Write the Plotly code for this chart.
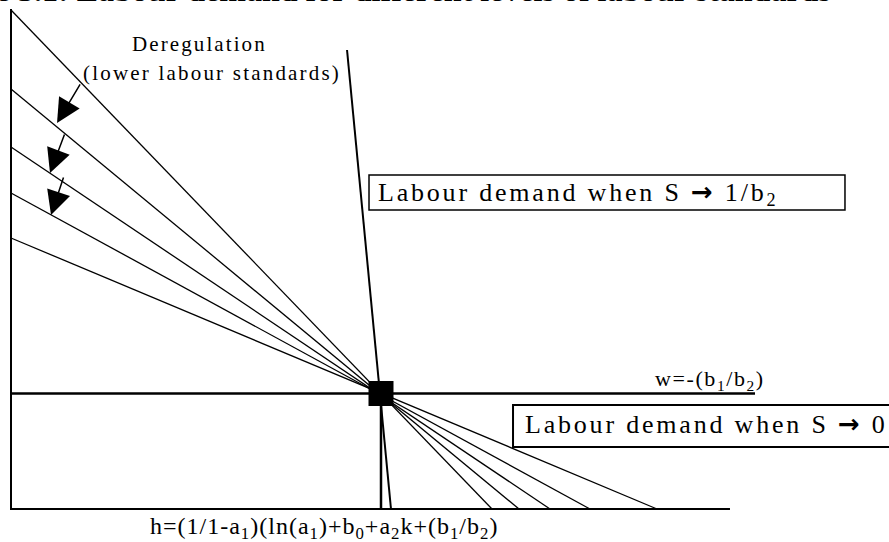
import plotly.graph_objects as go

# Equilibrium point (employment h*, wage w*)
H_STAR = 5.0
W_STAR = 2.0

# Labour-demand curves for decreasing labour standards:
# wage intercept (h = 0) and employment intercept (w = 0) of each line
FAN_W_INTERCEPT = [8.641, 7.273, 6.268, 5.472, 4.693]
FAN_H_INTERCEPT = [6.500, 6.865, 7.284, 7.824, 8.730]

# Labour demand when S -> 1/b2 (near-vertical curve)
STEEP_H = [4.541, 5.135]
STEEP_W = [7.948, 0.0]

# Extent of the axes and of the w* reference line
AXIS_W_TOP = 8.658
AXIS_H_END = 9.716
WLINE_H_END = 10.054

# Deregulation arrows: tail -> head
ARROW_TAIL_H = [0.946, 0.730, 0.716]
ARROW_TAIL_W = [7.377, 6.511, 5.766]
ARROW_HEAD_H = [0.622, 0.527, 0.541]
ARROW_HEAD_W = [6.684, 5.818, 5.091]

SERIF = "Liberation Serif, Times New Roman, serif"
INK = "#000000"

fig = go.Figure()

# axes drawn as plain lines
fig.add_trace(go.Scatter(x=[0, 0, AXIS_H_END], y=[AXIS_W_TOP, 0, 0], mode="lines",
                         line=dict(color=INK, width=2), hoverinfo="skip"))

# fan of demand curves
for w0, h0 in zip(FAN_W_INTERCEPT, FAN_H_INTERCEPT):
    fig.add_trace(go.Scatter(x=[0, h0], y=[w0, 0], mode="lines",
                             line=dict(color=INK, width=1.3), hoverinfo="skip"))

# steep demand curve
fig.add_trace(go.Scatter(x=STEEP_H, y=STEEP_W, mode="lines",
                         line=dict(color=INK, width=2), hoverinfo="skip"))

# w = -(b1/b2)
fig.add_trace(go.Scatter(x=[0, WLINE_H_END], y=[W_STAR, W_STAR], mode="lines",
                         line=dict(color=INK, width=2.5), hoverinfo="skip"))

# h* vertical
fig.add_trace(go.Scatter(x=[H_STAR, H_STAR], y=[0, W_STAR], mode="lines",
                         line=dict(color=INK, width=2.5), hoverinfo="skip"))

# equilibrium marker
fig.add_trace(go.Scatter(x=[H_STAR], y=[W_STAR], mode="markers",
                         marker=dict(symbol="square", size=25, color=INK,
                                     line=dict(width=0)),
                         hoverinfo="skip"))


def spaced(txt, px):
    return f'<span style="letter-spacing:{px}px">{txt}</span>'


ARROW = '<span style="font-family:DejaVu Sans;font-weight:bold">→</span>'

annotations = []

# title (runs off the top edge)
annotations.append(dict(
    x=11.108, y=8.649, xref="x", yref="y", xanchor="right", yanchor="bottom",
    text="<b>Figure 3.1: Labour demand for different levels of labour standards</b>",
    showarrow=False, font=dict(family=SERIF, size=32, color=INK)))

annotations.append(dict(
    x=2.541, y=8.052, xref="x", yref="y", xanchor="center", yanchor="middle",
    text=spaced("Deregulation", 2.1), showarrow=False,
    font=dict(family=SERIF, size=21, color=INK)))
annotations.append(dict(
    x=2.716, y=7.550, xref="x", yref="y", xanchor="center", yanchor="middle",
    text=spaced("(lower labour standards)", 2.2), showarrow=False,
    font=dict(family=SERIF, size=21, color=INK)))

for th, tw, hh, hw in zip(ARROW_TAIL_H, ARROW_TAIL_W, ARROW_HEAD_H, ARROW_HEAD_W):
    annotations.append(dict(
        x=hh, y=hw, ax=th, ay=tw, xref="x", yref="y", axref="x", ayref="y",
        text="", showarrow=True, arrowhead=2, arrowsize=3.2, arrowwidth=1.5,
        arrowcolor=INK, standoff=0))

annotations.append(dict(
    x=4.932, y=5.461, xref="x", yref="y", xanchor="left", yanchor="middle",
    text=spaced(f"Labour demand when S {ARROW} 1/b<sub>2</sub>", 2.8), showarrow=False,
    font=dict(family=SERIF, size=26, color=INK)))

annotations.append(dict(
    x=6.919, y=1.477, xref="x", yref="y", xanchor="left", yanchor="middle",
    text=spaced(f"Labour demand when S {ARROW} 0", 2.8), showarrow=False,
    font=dict(family=SERIF, size=26, color=INK)))

annotations.append(dict(
    x=8.676, y=2.234, xref="x", yref="y", xanchor="left", yanchor="middle",
    text=spaced("w=-(b<sub>1</sub>/b<sub>2</sub>)", 1.6), showarrow=False,
    font=dict(family=SERIF, size=22, color=INK)))

annotations.append(dict(
    x=1.851, y=-0.324, xref="x", yref="y", xanchor="left", yanchor="middle",
    text=spaced("h=(1/1-a<sub>1</sub>)(ln(a<sub>1</sub>)+b<sub>0</sub>+a<sub>2</sub>k+(b<sub>1</sub>/b<sub>2</sub>)", 1.0),
    showarrow=False, font=dict(family=SERIF, size=24, color=INK)))

shapes = [
    dict(type="rect", xref="x", yref="y", x0=4.838, x1=11.27, y0=5.177, y1=5.784,
         line=dict(color=INK, width=1.5), fillcolor="rgba(0,0,0,0)", layer="above"),
    dict(type="rect", xref="x", yref="y", x0=6.784, x1=12.5, y0=1.074, y1=1.801,
         line=dict(color=INK, width=2), fillcolor="rgba(0,0,0,0)", layer="above"),
]

fig.update_layout(
    width=889, height=542,
    margin=dict(l=0, r=0, t=0, b=0),
    paper_bgcolor="white", plot_bgcolor="white",
    showlegend=False,
    xaxis=dict(range=[-11 / 74, 878 / 74], visible=False, fixedrange=True),
    yaxis=dict(range=[-33 / 57.75, 509 / 57.75], visible=False, fixedrange=True),
    annotations=annotations,
    shapes=shapes,
)

fig.write_html("out.html")
